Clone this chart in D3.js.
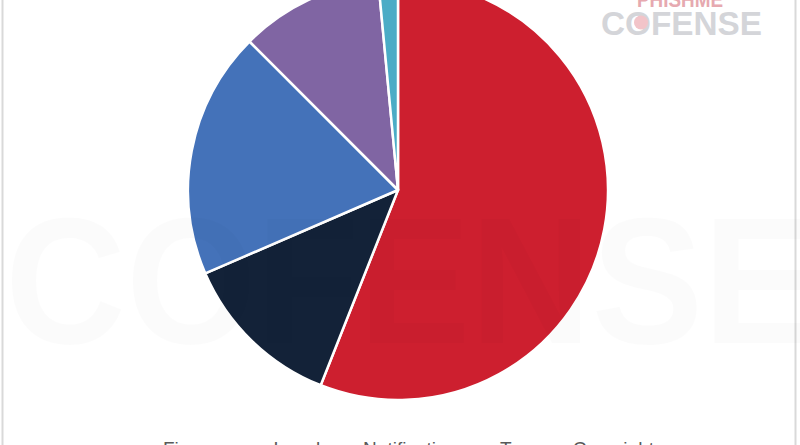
<!DOCTYPE html>
<html>
<head>
<meta charset="utf-8">
<script src="https://cdn.jsdelivr.net/npm/d3@7"></script>
<style>
  html, body { margin: 0; padding: 0; background: #ffffff; }
  svg { display: block; }
</style>
</head>
<body>
<script>
// ---- data ----
const categories = ["Finance", "Legal", "Notification", "Tax", "Copyright"];
const values = [56, 12.5, 19, 11, 1.5];
const colors = ["#CD1F2F", "#132238", "#4472B9", "#8065A3", "#4BACC6"];

const W = 800, H = 445;
const svg = d3.select("body").append("svg").attr("width", W).attr("height", H);

// chart frame
svg.append("rect").attr("x", 2.5).attr("y", -10).attr("width", 793).attr("height", 470)
  .attr("fill", "#ffffff").attr("stroke", "#d9d9d9").attr("stroke-width", 2);

// pie
const cx = 398, cy = 190, R = 210;
const pie = d3.pie().sort(null).value(d => d.v);
const arc = d3.arc().innerRadius(0).outerRadius(R);
const data = categories.map((c, i) => ({ c, v: values[i], col: colors[i] }));
svg.append("g").attr("transform", `translate(${cx},${cy})`)
  .selectAll("path").data(pie(data)).join("path")
  .attr("d", arc)
  .attr("fill", d => d.data.col)
  .attr("stroke", "#ffffff").attr("stroke-width", 2.5).attr("stroke-linejoin", "round");

// legend (mostly cut off at the bottom)
const lg = svg.append("g").attr("font-family", "Liberation Sans, Arial, sans-serif").attr("font-size", 19);
let x = 163;
categories.forEach((c, i) => {
  lg.append("rect").attr("x", x - 15).attr("y", 449).attr("width", 10).attr("height", 10).attr("fill", colors[i]);
  const t = lg.append("text").attr("x", x).attr("y", 455).attr("fill", "#595959").text(c);
  x += t.node().getComputedTextLength() + 43;
});

// large faint watermark
svg.append("text").attr("x", 5).attr("y", 343)
  .attr("font-family", "Liberation Sans, Arial, sans-serif").attr("font-weight", "bold")
  .attr("font-size", 180).attr("fill", "#000000").attr("fill-opacity", 0.016)
  .attr("textLength", 810).attr("lengthAdjust", "spacingAndGlyphs")
  .text("COFENSE");

// top-right logo
const logo = svg.append("g").attr("font-family", "Liberation Sans, Arial, sans-serif").attr("font-weight", "bold");
logo.append("text").attr("x", 637).attr("y", 7).attr("font-size", 22).attr("fill", "#e6a9b0")
  .attr("textLength", 86).attr("lengthAdjust", "spacingAndGlyphs").text("PHISHME");
logo.append("text").attr("x", 601).attr("y", 35).attr("font-size", 34).attr("fill", "#d4d5d9")
  .attr("textLength", 161).attr("lengthAdjust", "spacingAndGlyphs")
  .text("COFENSE");
logo.append("circle").attr("cx", 641).attr("cy", 22.5).attr("r", 7).attr("fill", "#f2c4c9");
</script>
</body>
</html>
